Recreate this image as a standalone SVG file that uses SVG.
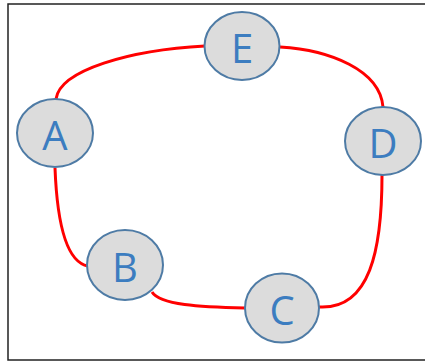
<svg xmlns="http://www.w3.org/2000/svg" width="425" height="362" viewBox="0 0 425 362">
<style>
.node ellipse{fill:#DCDCDC;stroke:#4E7BA5;stroke-width:2}
.node text{font-family:"Open Sans","Liberation Sans",sans-serif;font-size:40px;fill:#3C7DC0;text-anchor:middle;dominant-baseline:central}
.edge{fill:none;stroke:#FF0000;stroke-width:3}
</style>
<rect x="8" y="4" width="420" height="356" fill="#FFFFFF" stroke="#222" stroke-width="1.5"/>
<g id="connectors">
<path class="edge" d="M56,99 C60,70 130,50 205,46"/>
<path class="edge" d="M280,47 C330,50 380,70 383,107"/>
<path class="edge" d="M382,175 C382,250 370,310 319,307"/>
<path class="edge" d="M245,308 C200,307 160,305 152,292"/>
<path class="edge" d="M55,168 C57,220 65,262 88,266"/>
</g>
<g id="E" class="node"><ellipse cx="242" cy="46" rx="37.5" ry="34"/><text x="242" y="47">E</text></g>
<g id="A" class="node"><ellipse cx="55" cy="133" rx="38" ry="34"/><text x="55" y="134">A</text></g>
<g id="D" class="node"><ellipse cx="383" cy="141" rx="38" ry="34"/><text x="383" y="142">D</text></g>
<g id="B" class="node"><ellipse cx="125" cy="265" rx="38" ry="35"/><text x="125" y="266">B</text></g>
<g id="C" class="node"><ellipse cx="282" cy="308" rx="37" ry="34.5"/><text x="282" y="309">C</text></g>
</svg>
